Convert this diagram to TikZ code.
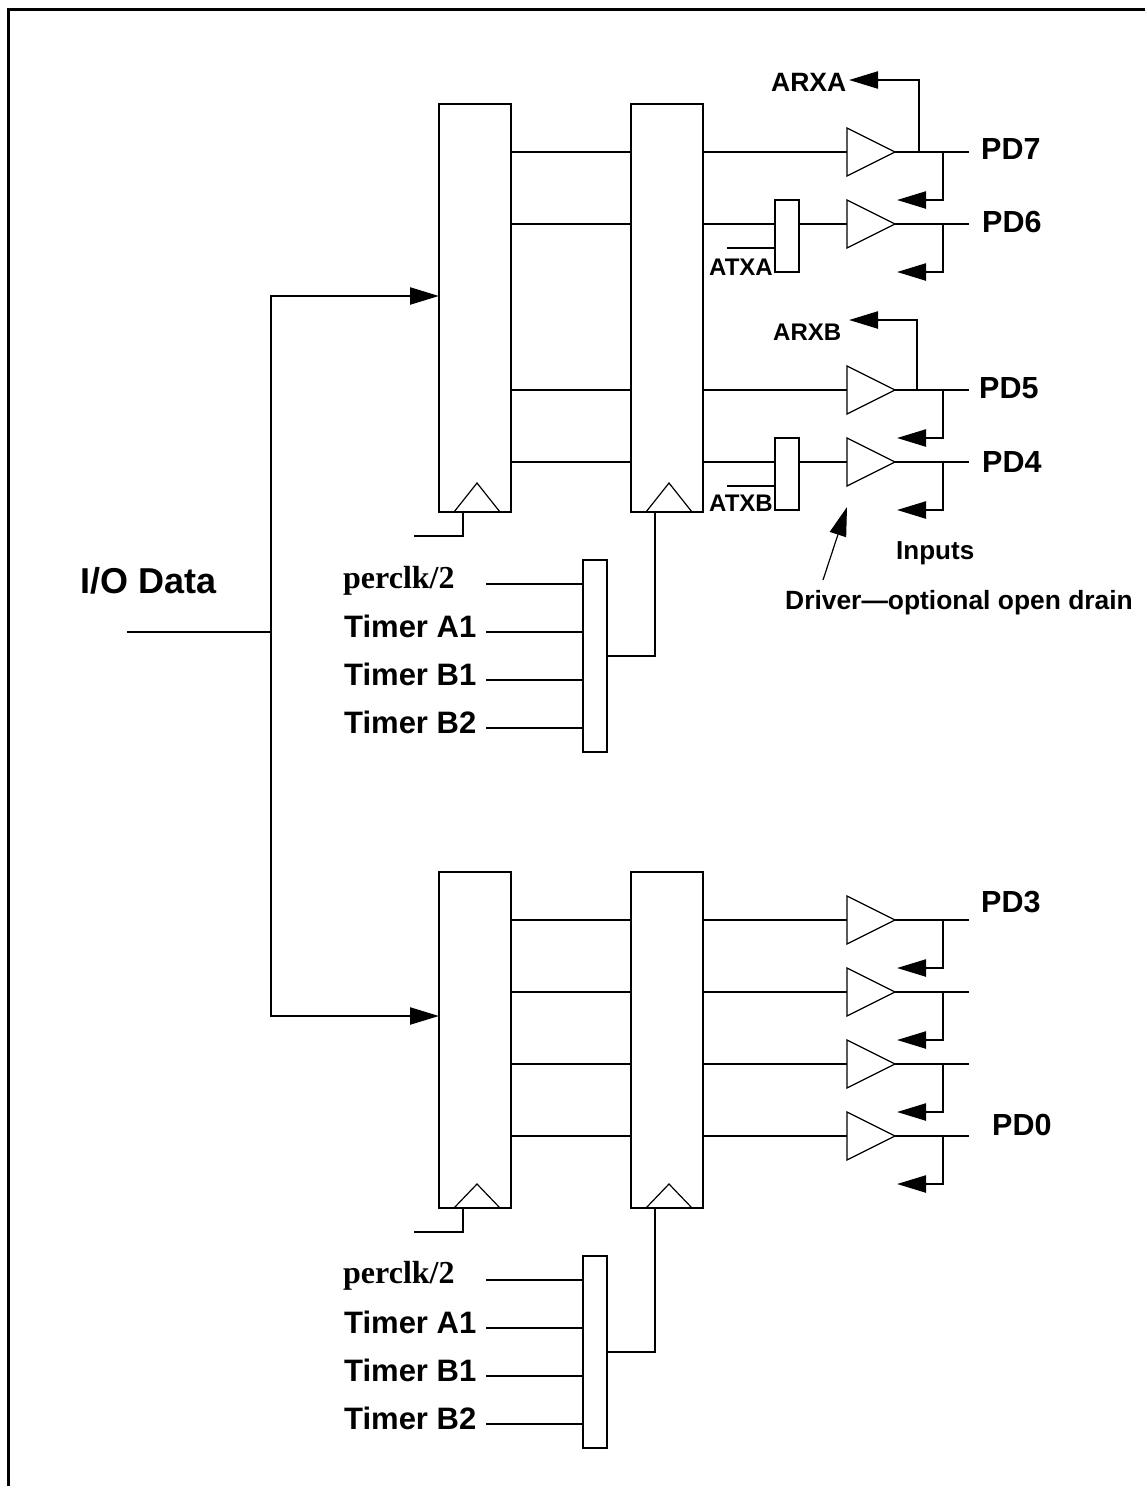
\documentclass[tikz,border=0pt]{standalone}
\usepackage{fontspec}
\setmainfont{Liberation Sans}
\newfontfamily\serifbold{Liberation Serif}
\usetikzlibrary{arrows.meta, shapes.geometric}

\colorlet{WireColor}{black}
\tikzset{
    wire/.style = {draw=WireColor, line width=2.3pt},
    feedback/.style = {wire, -{Triangle[length=29pt, width=17pt]}},
    register/.style = {rectangle, draw=WireColor, line width=2.3pt, minimum width=72pt, inner sep=0pt, outer sep=0pt},
    selector/.style = {rectangle, draw=WireColor, line width=2.3pt, minimum width=24pt, inner sep=0pt, outer sep=0pt},
    driver/.style = {isosceles triangle, isosceles triangle stretches, draw=WireColor, line width=1.2pt,
        minimum width=48pt, minimum height=48pt, inner sep=0pt, outer sep=0pt, anchor=apex},
    clock/.style = {draw=WireColor, line width=1.2pt},
    bigtext/.style = {font=\bfseries\fontsize{31}{31}\selectfont, inner sep=0pt},
    pintext/.style = {font=\bfseries\fontsize{30.5}{30.5}\selectfont, inner sep=0pt},
    smalltext/.style = {font=\bfseries\fontsize{24}{24}\selectfont, inner sep=0pt},
    notetext/.style = {font=\bfseries\fontsize{26}{26}\selectfont, inner sep=0pt},
    sertext/.style = {font=\serifbold\bfseries\fontsize{32}{32}\selectfont, inner sep=0pt},
}

\begin{document}
\begin{tikzpicture}[x=1pt, y=-1pt]

    \useasboundingbox (0,0) rectangle (1145,1486);

    \draw [line width=3pt] (8.5,1486) -- (8.5,9.5) -- (1145,9.5);

    % registers
    \node [register, minimum height=408pt] (RegA) at (475,308) {};
    \node [register, minimum height=408pt] (RegB) at (667,308) {};
    \node [register, minimum height=336pt] (RegC) at (475,1040) {};
    \node [register, minimum height=336pt] (RegD) at (667,1040) {};

    % clock marks
    \draw [clock] (454,512) -- (477,483) -- (500,512);
    \draw [clock] (646,512) -- (669,483) -- (692,512);
    \draw [clock] (454,1208) -- (477,1184) -- (500,1208);
    \draw [clock] (646,1208) -- (669,1184) -- (692,1208);

    % selectors
    \node [selector, minimum height=192pt] (SelA) at (595,656) {};
    \node [selector, minimum height=192pt] (SelB) at (595,1352) {};
    \node [selector, minimum height=72pt] (SelTxA) at (787,236) {};
    \node [selector, minimum height=72pt] (SelTxB) at (787,474) {};

    % drivers
    \node [driver] (DrvSeven) at (895,152) {};
    \node [driver] (DrvSix) at (895,224) {};
    \node [driver] (DrvFive) at (895,390) {};
    \node [driver] (DrvFour) at (895,462) {};
    \node [driver] (DrvThree) at (895,920) {};
    \node [driver] (DrvTwo) at (895,992) {};
    \node [driver] (DrvOne) at (895,1064) {};
    \node [driver] (DrvZero) at (895,1136) {};

    % data in
    \node [bigtext, font=\bfseries\fontsize{36}{36}\selectfont, anchor=west] (DataLabel) at (80,581) {I/O Data};
    \coordinate (DataIn) at (127,632);
    \coordinate (DataFork) at (271,632);
    \draw [wire] (DataIn) -- (DataFork);
    \draw [feedback] (DataFork) |- (RegA.west |- 0,296);
    \draw [feedback] (DataFork) |- (RegC.west |- 0,1016);

    % between registers
    \draw [wire] (RegA.east |- 0,152) -- (RegB.west |- 0,152);
    \draw [wire] (RegA.east |- 0,224) -- (RegB.west |- 0,224);
    \draw [wire] (RegA.east |- 0,390) -- (RegB.west |- 0,390);
    \draw [wire] (RegA.east |- 0,462) -- (RegB.west |- 0,462);
    \draw [wire] (RegC.east |- 0,920) -- (RegD.west |- 0,920);
    \draw [wire] (RegC.east |- 0,992) -- (RegD.west |- 0,992);
    \draw [wire] (RegC.east |- 0,1064) -- (RegD.west |- 0,1064);
    \draw [wire] (RegC.east |- 0,1136) -- (RegD.west |- 0,1136);

    % to drivers
    \draw [wire] (RegB.east |- DrvSeven.west) -- (DrvSeven.west);
    \draw [wire] (RegB.east |- DrvSix.west) -- (SelTxA.west |- DrvSix.west);
    \draw [wire] (SelTxA.east |- DrvSix.west) -- (DrvSix.west);
    \draw [wire] (RegB.east |- DrvFive.west) -- (DrvFive.west);
    \draw [wire] (RegB.east |- DrvFour.west) -- (SelTxB.west |- DrvFour.west);
    \draw [wire] (SelTxB.east |- DrvFour.west) -- (DrvFour.west);
    \draw [wire] (RegD.east |- DrvThree.west) -- (DrvThree.west);
    \draw [wire] (RegD.east |- DrvTwo.west) -- (DrvTwo.west);
    \draw [wire] (RegD.east |- DrvOne.west) -- (DrvOne.west);
    \draw [wire] (RegD.east |- DrvZero.west) -- (DrvZero.west);

    % outputs
    \draw [wire] (DrvSeven.apex) -- (969,152);
    \draw [wire] (DrvSix.apex) -- (969,224);
    \draw [wire] (DrvFive.apex) -- (969,390);
    \draw [wire] (DrvFour.apex) -- (969,462);
    \draw [wire] (DrvThree.apex) -- (969,920);
    \draw [wire] (DrvTwo.apex) -- (969,992);
    \draw [wire] (DrvOne.apex) -- (969,1064);
    \draw [wire] (DrvZero.apex) -- (969,1136);

    % inputs
    \draw [feedback] (943,152) |- (897,200);
    \draw [feedback] (943,224) |- (897,272);
    \draw [feedback] (943,390) |- (897,438);
    \draw [feedback] (943,462) |- (897,510);
    \draw [feedback] (943,920) |- (897,968);
    \draw [feedback] (943,992) |- (897,1040);
    \draw [feedback] (943,1064) |- (897,1112);
    \draw [feedback] (943,1136) |- (897,1184);

    \node [smalltext, font=\bfseries\fontsize{26.5}{26.5}\selectfont, anchor=west] (ArxaLabel) at (771,82) {ARXA};
    \node [smalltext, anchor=west] (ArxbLabel) at (773,332) {ARXB};
    \draw [feedback] (919,152) |- (849,80);
    \draw [feedback] (917,390) |- (849,320);

    \node [smalltext, anchor=west] (AtxaLabel) at (709,267) {ATXA};
    \node [smalltext, anchor=west] (AtxbLabel) at (709,503) {ATXB};
    \draw [wire] (727,248) -- (SelTxA.west |- 0,248);
    \draw [wire] (727,486) -- (SelTxB.west |- 0,486);

    % pin names
    \node [pintext, anchor=west] (PinSeven) at (981,149) {PD7};
    \node [pintext, anchor=west] (PinSix) at (982,222) {PD6};
    \node [pintext, anchor=west] (PinFive) at (979,388) {PD5};
    \node [pintext, anchor=west] (PinFour) at (982,462) {PD4};
    \node [pintext, anchor=west] (PinThree) at (981,902) {PD3};
    \node [pintext, anchor=west] (PinZero) at (992,1125) {PD0};

    \node [notetext, anchor=west] (InputsLabel) at (896,553) {Inputs};
    \node [notetext, font=\bfseries\fontsize{26.4}{26.4}\selectfont, anchor=west] (DriverLabel) at (785,603) {Driver---optional open drain};
    \coordinate (DriverFoot) at (823,580);
    \coordinate (DriverTip) at (847,507);
    \draw [line width=1.2pt, -{Triangle[length=29pt, width=17pt]}] (DriverFoot) -- (DriverTip);

    % upper clock select
    \draw [wire] (414,536) -| (463,512);
    \draw [wire] (SelA.east) -| (RegB.south -| 655,0);
    \node [sertext, anchor=west] (PerA) at (343,581) {perclk/2};
    \node [bigtext, anchor=west] (TimAA) at (344,626) {Timer A1};
    \node [bigtext, anchor=west] (TimBA) at (344,674) {Timer B1};
    \node [bigtext, anchor=west] (TimCA) at (344,722) {Timer B2};
    \draw [wire] (486,584) -- (SelA.west |- 0,584);
    \draw [wire] (486,632) -- (SelA.west |- 0,632);
    \draw [wire] (486,680) -- (SelA.west |- 0,680);
    \draw [wire] (486,728) -- (SelA.west |- 0,728);

    % lower clock select
    \draw [wire] (414,1232) -| (463,1208);
    \draw [wire] (SelB.east) -| (RegD.south -| 655,0);
    \node [sertext, anchor=west] (PerB) at (343,1276) {perclk/2};
    \node [bigtext, anchor=west] (TimAB) at (344,1322) {Timer A1};
    \node [bigtext, anchor=west] (TimBB) at (344,1370) {Timer B1};
    \node [bigtext, anchor=west] (TimCB) at (344,1418) {Timer B2};
    \draw [wire] (486,1280) -- (SelB.west |- 0,1280);
    \draw [wire] (486,1328) -- (SelB.west |- 0,1328);
    \draw [wire] (486,1376) -- (SelB.west |- 0,1376);
    \draw [wire] (486,1424) -- (SelB.west |- 0,1424);

\end{tikzpicture}
\end{document}
